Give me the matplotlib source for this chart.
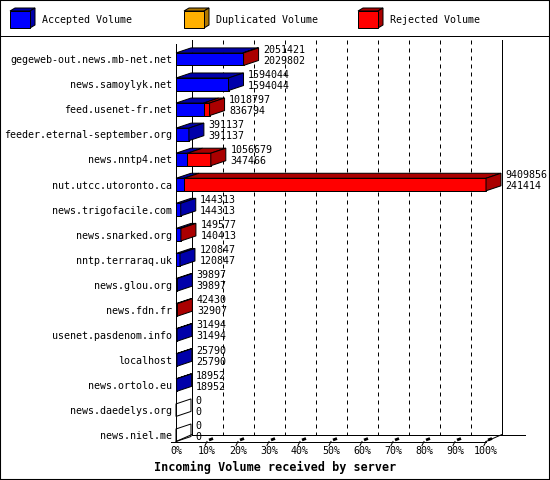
import matplotlib
matplotlib.use("Agg")
import matplotlib.pyplot as plt
from matplotlib.patches import Polygon, Rectangle
from matplotlib.lines import Line2D
import numpy as np

servers = [
    "gegeweb-out.news.mb-net.net", "news.samoylyk.net", "feed.usenet-fr.net",
    "feeder.eternal-september.org", "news.nntp4.net", "nut.utcc.utoronto.ca",
    "news.trigofacile.com", "news.snarked.org", "nntp.terraraq.uk",
    "news.glou.org", "news.fdn.fr", "usenet.pasdenom.info", "localhost",
    "news.ortolo.eu", "news.daedelys.org", "news.niel.me",
]
total_volume = [2051421, 1594044, 1018797, 391137, 1056679, 9409856, 144313, 149577,
                120847, 39897, 42430, 31494, 25790, 18952, 0, 0]
accepted_volume = [2029802, 1594044, 836794, 391137, 347466, 241414, 144313, 140413,
                   120847, 39897, 32907, 31494, 25790, 18952, 0, 0]
duplicated_volume = [0] * 16
series_names = ["Accepted Volume", "Duplicated Volume", "Rejected Volume"]
face_colors = ["#0000ff", "#ffb000", "#ff0000"]
dark_colors = ["#0000aa", "#b07800", "#aa0000"]
tick_values = list(range(0, 101, 10))
tick_labels = [f"{v}%" for v in tick_values]
title = "Incoming Volume received by server"

FONT = "DejaVu Sans Mono"
FS = 7.2

total = np.array(total_volume, dtype=float)
accepted = np.array(accepted_volume, dtype=float)
duplicated = np.array(duplicated_volume, dtype=float)
rejected = total - accepted - duplicated
scale = 100.0 / total.max()
series = [accepted * scale, duplicated * scale, rejected * scale]

W, H = 550, 480
fig = plt.figure(figsize=(W / 100, H / 100), dpi=100)

# plot region in pixels: x 176..486 for 0..100%, rows 25.07 px apart
n = len(servers)
row_px = 25.07
half = 0.25
top_row = -0.59
floor = n - 1 + half
ax_h = (floor - top_row) * row_px
ax = fig.add_axes([176 / W, (H - 441.5) / H, 310 / W, ax_h / H])
ax.set_xlim(0, 100)
ax.set_ylim(floor, top_row)
ax.axis("off")


def px_x(p):
    return p * 100 / 310


def px_y(p):
    return p / row_px


BDX, BDY = px_x(15), px_y(5)     # bar depth
WDX, WDY = px_x(16), px_y(7)     # wall depth
LW = 0.72
line_kw = dict(color="k", lw=LW, zorder=1, clip_on=False)

# walls
wall_top = top_row - px_y(4)
ax.plot([0, 0], [top_row, floor], **line_kw)
ax.plot([-px_x(5), 100], [floor, floor], **line_kw)
ax.plot([0, WDX], [floor, floor - WDY], **line_kw)
ax.plot([100, 100 + WDX], [floor, floor - WDY], **line_kw)
ax.plot([WDX, 100 + WDX + px_x(23)], [floor - WDY] * 2, **line_kw)
for x in [0, 100]:
    ax.plot([x + WDX] * 2, [wall_top, floor - WDY], **line_kw)
for v in tick_values[1:-1]:
    ax.plot([v + WDX] * 2, [wall_top, floor - WDY], linestyle=(0, (4, 4)), **line_kw)

# ticks and labels on the floor
for v, lab in zip(tick_values, tick_labels):
    if v > 0:
        ax.plot([v - px_x(2), v], [floor + px_y(4), floor], **line_kw)
        ax.plot([v + px_x(2), v + px_x(6)], [floor - px_y(1.5), floor - px_y(3)],
                color="k", lw=2.0, zorder=1, solid_capstyle="butt", clip_on=False)
    ax.annotate(lab, xy=(v, floor), xytext=(0, -10), textcoords="offset pixels",
                ha="center", va="center", fontsize=FS, family=FONT,
                annotation_clip=False)

# bars
ypos = np.arange(n)
lefts = np.zeros(n)
for k in range(3):
    w = series[k]
    ax.barh(ypos, w, left=lefts, height=2 * half, color=face_colors[k],
            edgecolor="k", lw=LW, zorder=3, clip_on=False)
    for i in range(n):
        if w[i] > 0:
            l, r = lefts[i], lefts[i] + w[i]
            yt = i - half
            ax.add_patch(Polygon([(l, yt), (r, yt), (r + BDX, yt - BDY), (l + BDX, yt - BDY)],
                                 closed=True, facecolor=dark_colors[k], edgecolor="k",
                                 lw=LW, zorder=3, clip_on=False))
    lefts = lefts + w

for i in range(n):
    last = None
    for k in range(3):
        if series[k][i] > 0:
            last = k
    r = lefts[i]
    yt, yb = i - half, i + half
    side = [(r, yt), (r + BDX, yt - BDY), (r + BDX, yb - BDY), (r, yb)]
    ax.add_patch(Polygon(side, closed=True,
                         facecolor=dark_colors[last] if last is not None else "none",
                         edgecolor="k", lw=LW, zorder=3, clip_on=False))
    ax.annotate(f"{total_volume[i]}", xy=(r + BDX, i), xytext=(4.5, 9.5),
                textcoords="offset pixels", ha="left", va="center",
                fontsize=FS, family=FONT, annotation_clip=False)
    ax.annotate(f"{accepted_volume[i]}", xy=(r + BDX, i), xytext=(4.5, -1.5),
                textcoords="offset pixels", ha="left", va="center",
                fontsize=FS, family=FONT, annotation_clip=False)
    ax.annotate(servers[i], xy=(0, i), xytext=(-4, -1), textcoords="offset pixels",
                ha="right", va="center", fontsize=FS, family=FONT,
                annotation_clip=False)

fig.text(0.5, 1 - 467 / H, title, ha="center", va="center", fontsize=8.5,
         family=FONT, weight="bold")

# legend strip
lax = fig.add_axes([0, 1 - 35 / H, 1, 35 / H])
lax.set_xlim(0, W)
lax.set_ylim(35, 0)
lax.axis("off")
for k, name in enumerate(series_names):
    x0 = 10 + 174 * k
    lax.add_patch(Polygon([(x0, 11), (x0 + 5, 8), (x0 + 25, 8), (x0 + 20, 11)],
                          closed=True, facecolor=dark_colors[k], edgecolor="k", lw=LW))
    lax.add_patch(Polygon([(x0 + 20, 11), (x0 + 25, 8), (x0 + 25, 25), (x0 + 20, 28)],
                          closed=True, facecolor=dark_colors[k], edgecolor="k", lw=LW))
    lax.add_patch(Rectangle((x0, 11), 20, 17, facecolor=face_colors[k],
                            edgecolor="k", lw=LW))
    lax.text(x0 + 32, 20, name, ha="left", va="center", fontsize=FS, family=FONT)

fig.add_artist(Line2D([0, 1], [1 - 35.5 / H] * 2, color="k", lw=LW,
                      transform=fig.transFigure))
fig.add_artist(Rectangle((0, 0), 1, 1, transform=fig.transFigure, fill=False,
                         edgecolor="k", lw=1.5))

fig.savefig("out.png", dpi=100)
